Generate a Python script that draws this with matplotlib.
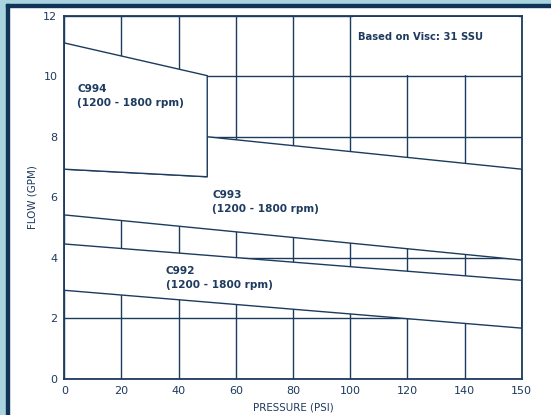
import matplotlib

matplotlib.use("Agg")
import matplotlib.pyplot as plt
import numpy as np
from matplotlib.patches import Rectangle

# pressure breakpoints (PSI)
press_c994 = [0, 50]
press_c993_top = [50, 150]
press_full = [0, 150]

# flow limits (GPM)
c994_top = [11.1, 10.02]
c994_bottom = [6.93, 6.68]
c993_top = [8.0, 6.93]
c993_bottom = [5.42, 3.93]
c992_top = [4.46, 3.26]
c992_bottom = [2.93, 1.68]

x_ticks = [0, 20, 40, 60, 80, 100, 120, 140, 150]
y_ticks = [0, 2, 4, 6, 8, 10, 12]

NAVY = "#1d3b5e"
TEXT = "#1e3a5f"
FRAME = "#0f3457"
LIGHT = "#a9d4df"


def fwd(x):
    x = np.asarray(x, dtype=float)
    # last tick interval (140-150) is drawn as wide as the others
    return np.where(x <= 140, x, 140 + (x - 140) * 2)


def inv(x):
    x = np.asarray(x, dtype=float)
    return np.where(x <= 140, x, 140 + (x - 140) / 2)


fig = plt.figure(figsize=(5.51, 4.15), dpi=100, facecolor="white")

# light blue page border with dark rule, as in the source screenshot
W, H = 551, 415
fig.patches.append(Rectangle((0, 0), 6 / W, 1, transform=fig.transFigure, color=LIGHT, zorder=0))
fig.patches.append(Rectangle((0, 1 - 4 / H), 1, 4 / H, transform=fig.transFigure, color=LIGHT, zorder=0))
fig.patches.append(Rectangle((6 / W, 0), 3 / W, 1 - 4 / H, transform=fig.transFigure, color=FRAME, zorder=1))
fig.patches.append(Rectangle((6 / W, 1 - 7 / H), 1 - 6 / W, 3 / H, transform=fig.transFigure, color=FRAME, zorder=1))

ax = fig.add_axes([64.3 / W, 36 / H, (521.7 - 64.3) / W, (379 - 15.7) / H])
ax.set_xscale("function", functions=(fwd, inv))
ax.set_xlim(0, 150)
ax.set_ylim(0, 12)
ax.set_xticks(x_ticks)
ax.set_yticks(y_ticks)
ax.set_axisbelow(True)
ax.grid(True, color=NAVY, linewidth=1.0)
ax.tick_params(length=0, labelsize=8, labelcolor=TEXT, pad=5)
for s in ax.spines.values():
    s.set_color(NAVY)
    s.set_linewidth(1.3)

# clear box behind the viscosity note (hides the 120/140 grid lines there)
ax.fill_between([101, 149.5], 10.04, 11.97, color="white", linewidth=0, zorder=1)

poly_kw = dict(facecolor="white", edgecolor=NAVY, linewidth=1.0, zorder=2)

# C992 band
ax.fill(press_full + press_full[::-1], c992_top + c992_bottom[::-1], **poly_kw)

# C993 band (tucks under C994 below 50 PSI)
c993_x = [press_full[0], press_c994[0], press_c994[1]] + press_c993_top + [press_full[1]]
c993_y = [c993_bottom[0], c994_bottom[0], c994_bottom[1]] + c993_top + [c993_bottom[1]]
ax.fill(c993_x, c993_y, **poly_kw)

# C994 band
ax.fill(press_c994 + press_c994[::-1], c994_top + c994_bottom[::-1], **poly_kw)

lbl = dict(fontsize=7.6, fontweight="bold", color=TEXT, va="center", ha="left", linespacing=1.45, zorder=3)
ax.text(4.5, 9.35, "C994\n(1200 - 1800 rpm)", **lbl)
ax.text(51.8, 5.85, "C993\n(1200 - 1800 rpm)", **lbl)
ax.text(35.5, 3.34, "C992\n(1200 - 1800 rpm)", **lbl)
ax.text(102.8, 11.31, "Based on Visc: 31 SSU", fontsize=7.2, fontweight="bold", color=TEXT, va="center", ha="left", zorder=3)

ax.set_xlabel("PRESSURE (PSI)", fontsize=7.4, color=TEXT, labelpad=5)
ax.set_ylabel("FLOW (GPM)", fontsize=7.4, color=TEXT, labelpad=4)

fig.savefig("out.png", dpi=100, facecolor="white")
